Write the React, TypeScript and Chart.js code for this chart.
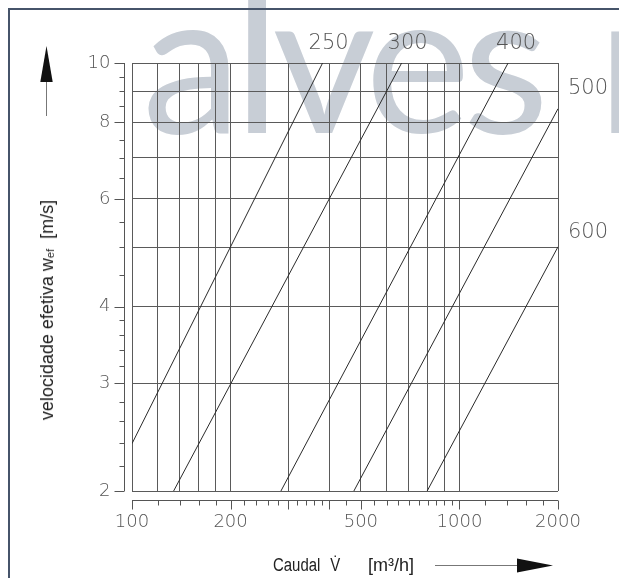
import React, { useEffect, useRef } from 'react';
import { Chart, registerables } from 'chart.js';

Chart.register(...registerables);

// Pipe diameters (mm) labelling each line
const diameters = ['250', '300', '400', '500', '600'];
// Start / end points of each line: flow [m3/h], velocity [m/s]
const flowStart = [100, 134, 285, 476, 797];
const velocityStart = [2.39, 2, 2, 2, 2];
const flowEnd = [382, 666, 1408, 2000, 2000];
const velocityEnd = [10, 10, 10, 8.42, 5.01];

// Grid lines
const xGrid = [100, 120, 140, 160, 180, 200, 300, 400, 500, 600, 700, 800, 900, 1000, 2000];
const yGrid = [2, 3, 4, 5, 6, 7, 8, 9, 10];
// Axis ticks
const xLabelTicks = [100, 200, 500, 1000, 2000];
const xLongTicks = [300, 400];
const xMinorTicks = [120, 140, 160, 180, 220, 240, 260, 280, 320, 340, 360, 380, 450, 550, 600, 650, 700, 750, 800, 850, 900, 950, 1200, 1400, 1600, 1800];
const yLabelTicks = [2, 3, 4, 6, 8, 10];
const yMinorTicks = [2.2, 2.4, 2.6, 2.8, 3.2, 3.4, 3.6, 3.8, 4.5, 5, 5.5, 6.5, 7, 7.5, 8.5, 9, 9.5];

const TICK_FONT = '200 18px "DejaVu Sans"';
const CURVE_FONT = '200 21px "DejaVu Sans"';

const decor = {
  id: 'decor',
  afterDraw(chart: any) {
    const { ctx, chartArea } = chart;
    const xs = chart.scales.x;
    const ys = chart.scales.y;
    ctx.save();
    ctx.strokeStyle = '#555';
    ctx.lineWidth = 1;
    // Y axis (offset to the left of the plot)
    const ax = Math.round(chartArea.left - 8) + 0.5;
    ctx.beginPath();
    ctx.moveTo(ax, ys.getPixelForValue(10));
    ctx.lineTo(ax, ys.getPixelForValue(2));
    for (const v of yMinorTicks) {
      const p = Math.round(ys.getPixelForValue(v)) + 0.5;
      ctx.moveTo(ax, p);
      ctx.lineTo(ax - 5, p);
    }
    for (const v of yLabelTicks) {
      const p = Math.round(ys.getPixelForValue(v)) + 0.5;
      ctx.moveTo(ax, p);
      ctx.lineTo(ax - 10, p);
    }
    // X axis (offset below the plot)
    const ay = Math.round(chartArea.bottom + 8.6) + 0.5;
    ctx.moveTo(xs.getPixelForValue(100), ay);
    ctx.lineTo(xs.getPixelForValue(2000), ay);
    for (const v of xMinorTicks) {
      const p = Math.round(xs.getPixelForValue(v)) + 0.5;
      ctx.moveTo(p, ay);
      ctx.lineTo(p, ay + 5);
    }
    for (const v of [...xLabelTicks, ...xLongTicks]) {
      const p = Math.round(xs.getPixelForValue(v)) + 0.5;
      ctx.moveTo(p, ay);
      ctx.lineTo(p, ay + 9);
    }
    ctx.stroke();

    // Tick labels
    ctx.fillStyle = '#555';
    ctx.font = TICK_FONT;
    ctx.textAlign = 'right';
    ctx.textBaseline = 'middle';
    for (const v of yLabelTicks) {
      ctx.fillText(String(v), ax - 14, ys.getPixelForValue(v));
    }
    ctx.textAlign = 'center';
    for (const v of xLabelTicks) {
      ctx.fillText(String(v), xs.getPixelForValue(v), ay + 22);
    }

    // Curve labels
    ctx.font = CURVE_FONT;
    diameters.forEach((d, i) => {
      const end = chart.getDatasetMeta(i).data[1];
      if (velocityEnd[i] >= 10) {
        ctx.textAlign = 'center';
        ctx.fillText(d, end.x + (i === 2 ? 8 : 6), chartArea.top - 19);
      } else {
        ctx.textAlign = 'left';
        ctx.fillText(d, chartArea.right + 10, end.y - (i === 3 ? 20 : 14));
      }
    });

    // Arrows
    ctx.strokeStyle = '#777';
    ctx.beginPath();
    ctx.moveTo(46.5, 82);
    ctx.lineTo(46.5, 116);
    ctx.moveTo(435, 565.5);
    ctx.lineTo(517, 565.5);
    ctx.stroke();
    ctx.fillStyle = '#111';
    ctx.beginPath();
    ctx.moveTo(46.5, 46);
    ctx.lineTo(40.3, 82);
    ctx.lineTo(52.7, 82);
    ctx.closePath();
    ctx.fill();
    ctx.beginPath();
    ctx.moveTo(553, 565.5);
    ctx.lineTo(517, 558.5);
    ctx.lineTo(517, 572.5);
    ctx.closePath();
    ctx.fill();
    ctx.restore();
  },
};

export default function App() {
  const ref = useRef<HTMLCanvasElement | null>(null);
  useEffect(() => {
    if (!ref.current) return;
    const chart = new Chart(ref.current, {
      type: 'scatter',
      data: {
        datasets: diameters.map((d, i) => ({
          label: d,
          data: [
            { x: flowStart[i], y: velocityStart[i] },
            { x: flowEnd[i], y: velocityEnd[i] },
          ],
          showLine: true,
          borderColor: '#2a2a2a',
          borderWidth: 1,
          pointRadius: 0,
          fill: false,
        })),
      },
      options: {
        animation: false,
        responsive: false,
        maintainAspectRatio: false,
        devicePixelRatio: 1,
        layout: { padding: { left: 132, top: 63, right: 61, bottom: 87 } },
        plugins: { legend: { display: false }, tooltip: { enabled: false } },
        scales: {
          x: {
            type: 'logarithmic',
            min: 100,
            max: 2000,
            afterBuildTicks: (s: any) => {
              s.ticks = xGrid.map((v) => ({ value: v }));
            },
            ticks: { display: false },
            grid: { drawTicks: false, color: '#5a5a5a', lineWidth: 1 },
            border: { display: false },
          },
          y: {
            type: 'logarithmic',
            min: 2,
            max: 10,
            afterBuildTicks: (s: any) => {
              s.ticks = yGrid.map((v) => ({ value: v }));
            },
            ticks: { display: false },
            grid: { drawTicks: false, color: '#5a5a5a', lineWidth: 1 },
            border: { display: false },
          },
        },
      },
      plugins: [decor],
    } as any);
    return () => chart.destroy();
  }, []);

  return (
    <div style={{ position: 'fixed', left: 0, top: 0, width: 619, height: 578, overflow: 'hidden', background: '#fff' }}>
      <div
        style={{
          position: 'absolute',
          left: 142,
          top: -44,
          fontFamily: 'Lato, sans-serif',
          fontWeight: 400,
          fontSize: 200,
          letterSpacing: -8,
          color: '#c8ced6',
          whiteSpace: 'pre',
          lineHeight: 1,
        }}
      >
        alves<span style={{ marginLeft: 56 }}>r</span>
      </div>
      <canvas ref={ref} width={619} height={578} style={{ position: 'absolute', left: 0, top: 0, width: 619, height: 578 }} />
      <div style={{ position: 'absolute', left: 8, top: 8, width: 611, height: 2, background: '#46546a' }} />
      <div style={{ position: 'absolute', left: 8, top: 8, width: 2, height: 570, background: '#46546a' }} />
      <div
        style={{
          position: 'absolute',
          left: 46.5,
          top: 310,
          transform: 'translate(-50%, -50%) rotate(-90deg)',
          whiteSpace: 'pre',
          fontFamily: '"Liberation Sans", sans-serif',
          fontSize: 18,
          color: '#222',
          lineHeight: 1,
        }}
      >
        velocidade efetiva w<span style={{ fontSize: 11, verticalAlign: '-1px' }}>ef</span>{'  '}[m/s]
      </div>
      <div
        style={{
          position: 'absolute',
          left: 273,
          top: 556,
          whiteSpace: 'pre',
          fontFamily: '"Liberation Sans", sans-serif',
          fontSize: 18,
          color: '#222',
          lineHeight: 1,
          transform: 'scaleX(0.83)',
          transformOrigin: 'left top',
        }}
      >
        Caudal<span style={{ marginLeft: 12 }}>{'V\u0307'}</span>
      </div>
      <div
        style={{
          position: 'absolute',
          left: 368,
          top: 556,
          whiteSpace: 'pre',
          fontFamily: '"Liberation Sans", sans-serif',
          fontSize: 18,
          color: '#222',
          lineHeight: 1,
        }}
      >
        [m³/h]
      </div>
    </div>
  );
}
